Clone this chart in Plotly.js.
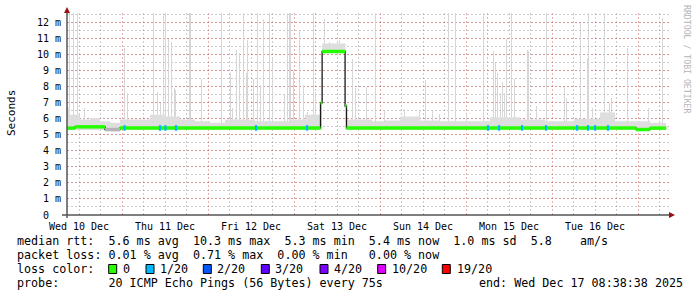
<!DOCTYPE html>
<html><head><meta charset="utf-8">
<script src="https://cdn.plot.ly/plotly-3.0.1.min.js"></script>
<style>html,body{margin:0;padding:0;background:#fff}#chart{width:697px;height:297px}</style>
</head><body><div id="chart"></div>
<script>
// ---- data (times are hours since graph start 2025-12-10 08:38:38) ----
const graphStart = [2025, 11, 10, 8, 38, 38];
const graphHours = 168;

// median RTT (ms) as steps: value holds from hour[i] to hour[i+1]
const medianHours = [0, 2.2, 10.6, 14.8, 70.75, 71.2, 77.6, 78.0, 158.8, 162.7, 167.2];
const medianMs    = [5.42, 5.50, 5.33, 5.43, 7.0, 10.2, 6.8, 5.43, 5.33, 5.42, 5.42];
const medianLoss  = [0, 0, -1, 0, 0, 0, 0, 0, 0, 0, 0];

// smoke band (ms), value holds from hour[i] to hour[i+1]
const smokeHours = [0, 0.84, 3.63, 6.42, 9.21, 12.0, 14.79, 23.17, 27.63, 31.54, 35.72, 39.91, 44.10, 52.47, 62.24, 66.42, 70.89, 71.17, 77.73, 78.15, 85.12, 88.75, 92.94, 98.52, 104.10, 118.06, 126.43, 133.41, 141.5, 148.76, 152.95, 162.71, 167.18];
const smokeHiMs  = [6.7, 6.25, 5.95, 6.05, 5.85, 5.75, 5.95, 6.25, 6.15, 5.95, 5.85, 5.75, 5.95, 5.85, 5.95, 6.25, 7.1, 10.7, 6.9, 5.95, 5.85, 5.9, 6.15, 5.9, 5.85, 6.1, 5.95, 5.85, 6.0, 6.4, 5.85, 5.75];
const smokeLoMs  = [5.3, 5.3, 5.3, 5.3, 5.3, 5.22, 5.3, 5.3, 5.3, 5.3, 5.3, 5.3, 5.3, 5.3, 5.3, 5.3, 5.3, 10.1, 5.3, 5.3, 5.3, 5.3, 5.3, 5.3, 5.3, 5.3, 5.3, 5.3, 5.3, 5.3, 5.3, 5.3];

// individual slow pings (max RTT spikes, ms)
const spikeHours = [0.56,1.95,2.79,5.02,11.44,15.91,17.02,24.00,25.12,25.96,26.79,27.35,28.38,29.30,29.95,30.23,34.13,34.41,37.40,42.98,45.58,46.25,47.17,48.09,49.20,49.96,50.43,52.00,53.22,53.95,54.79,56.52,57.21,60.56,61.48,62.10,62.38,63.08,64.94,65.87,67.07,68.85,69.30,71.92,73.32,76.11,79.54,80.46,83.53,85.96,88.67,94.14,98.33,99.92,101.87,103.91,106.42,108.37,111.55,116.30,119.09,119.54,120.01,120.93,121.60,122.16,122.61,124.00,124.95,128.38,128.66,130.98,133.77,138.91,139.27,143.18,145.21,145.49,146.61,149.87,151.27,151.91,156.38,162.16,166.15];
const spikeTopMs = [14,14,14,6.7,8.1,10.4,7.6,14,7.7,7.0,14,14,11.0,10.8,7.9,7.8,14,14,8.5,14,8.85,6.7,10.3,10.1,14,8.85,10.9,8.5,14,8.1,12.2,14,9.8,7.5,14,14,14,9.0,11.45,8.1,6.4,14,7.7,12.2,10.8,10.9,9.7,7.9,8.0,14,6.5,6.6,6.5,8.4,6.5,6.3,14,14,6.3,14,10.2,9.5,8.85,7.6,8.3,7.6,11.0,14,8.5,10.3,10.2,6.8,14,8.0,7.3,12.0,9.8,14,6.7,14,7.0,7.3,10.4,6.7,12.3];

// packet loss events (1 of 20 lost)
const lossHours = [16.05, 25.96, 27.49, 30.42, 52.75, 66.98, 117.50, 120.57, 126.99, 133.69, 142.34, 145.41, 147.36, 150.99];
const lossLevel = [1,1,1,1,1,1,1,1,1,1,1,1,1,1];

const yTickVals = [0,1,2,3,4,5,6,7,8,9,10,11,12];
const yTickText = ['0\u00a0\u00a0','1 m','2 m','3 m','4 m','5 m','6 m','7 m','8 m','9 m','10 m','11 m','12 m'];

const lossNames  = ['0','1/20','2/20','3/20','4/20','10/20','19/20'];
const lossColors = ['#26ff00','#00b8ff','#0059ff','#5e00ff','#7e00ff','#dd00ff','#ff0000'];

const statLines = [
  'median rtt:  5.6 ms avg  10.3 ms max  5.3 ms min  5.4 ms now  1.0 ms sd  5.8    am/s',
  'packet loss: 0.01 % avg  0.71 % max  0.00 % min   0.00 % now',
  'loss color:',
  'probe:       20 ICMP Echo Pings (56 Bytes) every 75s'
];
const endText = 'end: Wed Dec 17 08:38:38 2025';

// ---- helpers ----
const startMs = Date.UTC(graphStart[0], graphStart[1], graphStart[2], graphStart[3], graphStart[4], graphStart[5]);
function toDate(h){ return new Date(startMs + h*3600000).toISOString().replace('T',' ').slice(0,19); }
function stepLookup(hours, vals, h){ let v = vals[0]; for (let i=0;i<vals.length;i++){ if (h >= hours[i]) v = vals[i]; } return v; }
const PL=67, PR=669, PT=13, PB=215;
const px = x => (x-PL)/(PR-PL);
const py = y => (PB-y)/(PB-PT);
const nb = s => s.replace(/ /g,'\u00a0');
const MONO = 'DejaVu Sans Mono';
const LEG = 11.7;

// ---- traces ----
const traces = [];
const smX = smokeHours.map(toDate);
traces.push({type:'scatter', mode:'lines', x:smX, y:smokeLoMs.concat([smokeLoMs[smokeLoMs.length-1]]),
  line:{shape:'hv', width:0, color:'#dcdcdc'}, hoverinfo:'skip'});
traces.push({type:'scatter', mode:'lines', x:smX, y:smokeHiMs.concat([smokeHiMs[smokeHiMs.length-1]]),
  line:{shape:'hv', width:0, color:'#dcdcdc'}, fill:'tonexty', fillcolor:'#dedede', hoverinfo:'skip'});

const spikeBase = spikeHours.map(h => stepLookup(smokeHours, smokeLoMs, h) + 0.1);
traces.push({type:'bar', x:spikeHours.map(toDate), y:spikeTopMs.map((v,i)=>v-spikeBase[i]), base:spikeBase,
  width:spikeHours.map(()=>1.0e6), marker:{color:'#d6d6d6', line:{width:0}}, hoverinfo:'skip'});

// black median line
traces.push({type:'scatter', mode:'lines', x:medianHours.map(toDate), y:medianMs,
  line:{shape:'hv', width:1.3, color:'#1a1a1a'}, hoverinfo:'skip'});

// loss-coloured median segments
function segs(level){
  const xs=[], ys=[];
  for (let i=0;i<medianHours.length-1;i++){
    if (medianLoss[i]===level){ xs.push(toDate(medianHours[i]), toDate(medianHours[i+1]), null); ys.push(medianMs[i], medianMs[i], null); }
  }
  return {xs, ys};
}
const g = segs(0), gr = segs(-1);
traces.push({type:'scatter', mode:'lines', x:gr.xs, y:gr.ys, line:{width:3.5, color:'#b4b4b4'}, hoverinfo:'skip'});
traces.push({type:'scatter', mode:'lines', x:g.xs, y:g.ys, line:{width:3.5, color:lossColors[0]}, hoverinfo:'skip'});
traces.push({type:'scatter', mode:'markers', x:lossHours.map(toDate),
  y:lossHours.map(h=>stepLookup(medianHours, medianMs, h)),
  marker:{symbol:'line-ns', size:4, line:{width:2.2, color:lossHours.map((h,i)=>lossColors[lossLevel[i]])}}, hoverinfo:'skip'});

// ---- layout ----
const shapes = [
  {type:'line', xref:'paper', yref:'paper', x0:px(62), x1:px(670), y0:0, y1:0, line:{color:'#000', width:1}},
  {type:'line', xref:'paper', yref:'paper', x0:0, x1:0, y0:py(218), y1:py(11), line:{color:'#555', width:1.5}},
  {type:'path', xref:'paper', yref:'paper', path:`M ${px(669)},${py(212)} L ${px(675)},${py(215)} L ${px(669)},${py(218)} Z`, fillcolor:'#9a1010', line:{width:0}},
  {type:'path', xref:'paper', yref:'paper', path:`M ${px(64)},${py(13)} L ${px(67)},${py(7)} L ${px(70)},${py(13)} Z`, fillcolor:'#9a1010', line:{width:0}}
];
const sqX = [108.7, 146, 203.3, 261.3, 320, 377.7, 442.3];
const lblX = [123, 160, 217, 275, 334, 392, 457];
const annotations = [];
sqX.forEach((x,i)=>{
  shapes.push({type:'rect', xref:'paper', yref:'paper', x0:px(x), x1:px(x+8), y0:py(273.5), y1:py(264.5), fillcolor:lossColors[i], line:{color:'#000', width:1}});
  annotations.push({xref:'paper', yref:'paper', x:px(lblX[i]-1), y:py(269.3), xanchor:'left', yanchor:'middle', text:nb(lossNames[i]), showarrow:false, borderpad:0, font:{family:MONO, size:LEG, color:'#000'}});
});
const lineY = [241.5, 255.3, 269.3, 283];
statLines.forEach((t,i)=>{
  annotations.push({xref:'paper', yref:'paper', x:px(16), y:py(lineY[i]), xanchor:'left', yanchor:'middle', text:nb(t), showarrow:false, borderpad:0, font:{family:MONO, size:LEG, color:'#000'}});
});
annotations.push({xref:'paper', yref:'paper', x:px(477.5), y:py(lineY[3]), xanchor:'left', yanchor:'middle', text:nb(endText), showarrow:false, borderpad:0, font:{family:MONO, size:LEG, color:'#000'}});
annotations.push({xref:'paper', yref:'paper', x:px(11), y:py(113), xanchor:'center', yanchor:'middle', text:'Seconds', textangle:-90, showarrow:false, borderpad:0, font:{family:MONO, size:11, color:'#000'}});
annotations.push({xref:'paper', yref:'paper', x:px(687), y:py(59), xanchor:'center', yanchor:'middle', text:nb('RRDTOOL / TOBI OETIKER'), textangle:90, showarrow:false, borderpad:0, font:{family:MONO, size:8.2, color:'#b5b5b5'}});

const layout = {
  width:697, height:297,
  margin:{l:PL, r:697-PR, t:PT, b:297-PB, pad:0},
  paper_bgcolor:'#fff', plot_bgcolor:'#fff',
  showlegend:false, barmode:'overlay', bargap:0,
  font:{family:MONO, size:10, color:'#000'},
  xaxis:{type:'date', range:[toDate(0), toDate(graphHours)], tickmode:'linear', tick0:'2025-12-10 00:00:00', dtick:86400000,
    ticklabelmode:'period', tickformat:'%a %d %b', ticks:'', showline:false, zeroline:false, ticklabelstandoff:4,
    showgrid:true, gridcolor:'rgba(215,95,95,0.5)', griddash:'2px,2px', gridwidth:1,
    minor:{tick0:'2025-12-10 00:00:00', dtick:21600000, showgrid:true, gridcolor:'rgba(150,150,150,0.5)', griddash:'2px,2px', gridwidth:1, ticks:''},
    tickfont:{family:MONO, size:10, color:'#000'}},
  yaxis:{range:[0,12.6], tickmode:'array', tickvals:yTickVals, ticktext:yTickText, ticks:'', showline:false, zeroline:false,
    showgrid:true, gridcolor:'rgba(215,95,95,0.5)', griddash:'2px,2px', gridwidth:1, ticklabelstandoff:5,
    minor:{tickmode:'linear', tick0:0, dtick:0.5, showgrid:true, gridcolor:'rgba(150,150,150,0.5)', griddash:'2px,2px', gridwidth:1, ticks:''},
    tickfont:{family:MONO, size:10, color:'#000'}},
  shapes, annotations
};
Plotly.newPlot('chart', traces, layout, {staticPlot:true, displayModeBar:false});
</script></body></html>
